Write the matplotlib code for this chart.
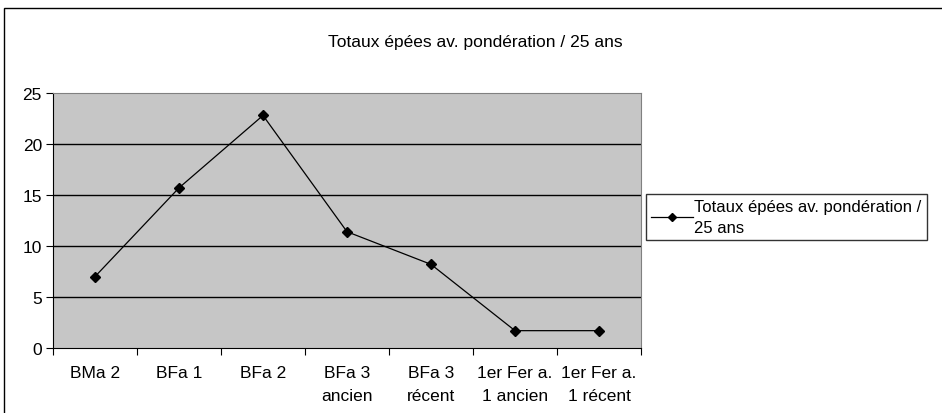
import matplotlib.pyplot as plt
from matplotlib.patches import Rectangle

categories = ["BMa 2", "BFa 1", "BFa 2", "BFa 3\nancien", "BFa 3\nrécent",
              "1er Fer a.\n1 ancien", "1er Fer a.\n1 récent"]
values = [7.0, 15.7, 22.8, 11.4, 8.2, 1.7, 1.7]
series_name = "Totaux épées av. pondération / 25 ans"

plt.rcParams['font.family'] = ['Liberation Sans Narrow', 'Liberation Sans', 'DejaVu Sans']
FS = 12.5

fig = plt.figure(figsize=(9.42, 4.14), dpi=100)
W, H = 942, 414

# outer chart frame
fig.patches.append(Rectangle((4 / W, -0.1), 1.2, 1 - 9 / H + 0.1, transform=fig.transFigure,
                             fill=False, edgecolor="black", linewidth=1.0))

ax = fig.add_axes([53 / W, 1 - 349 / H, (641 - 53) / W, (349 - 94) / H])
ax.set_facecolor("#c6c6c6")
ax.plot(range(len(values)), values, color="black", linewidth=0.9,
        marker="D", markersize=5, markerfacecolor="black")

ax.set_xlim(-0.5, len(values) - 0.5)
ax.set_ylim(0, 25)
ax.set_yticks([0, 5, 10, 15, 20, 25])
for y in [5, 10, 15, 20]:
    ax.axhline(y, color="black", linewidth=1.0, zorder=1)

ax.set_xticks([i - 0.5 for i in range(len(values) + 1)])
ax.set_xticklabels([])
ax.set_xticks(range(len(values)), minor=True)
ax.set_xticklabels(categories, minor=True, fontsize=FS, linespacing=1.7)
ax.tick_params(axis="x", which="minor", length=0, pad=12)
ax.tick_params(axis="x", which="major", length=5, direction="out")
ax.tick_params(axis="y", length=5, direction="out", labelsize=FS, pad=3)

for side in ["top", "right"]:
    ax.spines[side].set_color("#808080")
for side in ["left", "bottom"]:
    ax.spines[side].set_color("black")

fig.text(475 / W, 1 - 43 / H, series_name, ha="center", va="center", fontsize=FS)

leg = fig.legend(["Totaux épées av. pondération /\n25 ans"], loc="upper left",
                 bbox_to_anchor=(646 / W, 1 - 195 / H), fontsize=12, frameon=True,
                 fancybox=False, edgecolor="black", handlelength=2.5, handletextpad=0.1,
                 borderpad=0.3, borderaxespad=0, markerscale=0.8)
leg.get_frame().set_linewidth(1.0)
for t in leg.get_texts():
    t.set_linespacing(1.5)

fig.savefig("out.png", dpi=100)
